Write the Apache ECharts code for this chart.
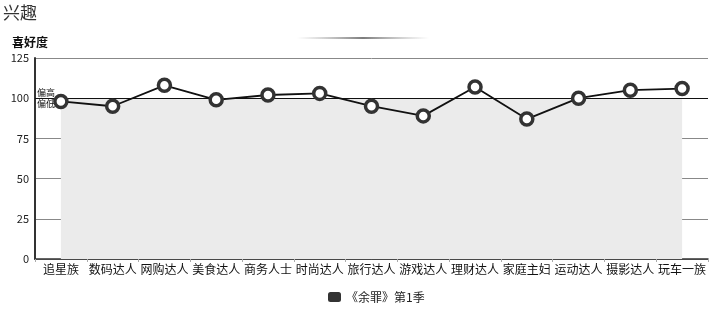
<!DOCTYPE html>
<html><head><meta charset="utf-8">
<script src="https://cdn.jsdelivr.net/npm/echarts@6/dist/echarts.min.js"></script>
<style>html,body{margin:0;padding:0;background:#fff}#c{width:711px;height:309px}</style>
</head><body><div id="c"></div>
<script>
var categories = ['追星族','数码达人','网购达人','美食达人','商务人士','时尚达人','旅行达人','游戏达人','理财达人','家庭主妇','运动达人','摄影达人','玩车一族'];
var values = [98, 95, 108, 99, 102, 103, 95, 89, 107, 87, 100, 105, 106];
var seriesName = '《余罪》第1季';
var yTicks = [0, 25, 50, 75, 100, 125];
var baseline = 100;
var font = '"Noto Sans CJK SC", "DejaVu Sans", sans-serif';

var chart = echarts.init(document.getElementById('c'));
chart.setOption({
  animation: false,
  textStyle: {fontFamily: font},
  title: {text: '兴趣', left: -2, top: -1, textStyle: {fontSize: 17, fontWeight: 'normal', color: '#333', fontFamily: font}},
  graphic: [{
    type: 'rect', left: 297, top: 37, shape: {width: 132, height: 2},
    style: {fill: new echarts.graphic.LinearGradient(0, 0, 1, 0, [
      {offset: 0, color: 'rgba(150,150,150,0)'},
      {offset: 0.5, color: 'rgba(110,110,110,0.9)'},
      {offset: 1, color: 'rgba(150,150,150,0)'}])}
  }],
  legend: {
    bottom: 1, left: 323, itemWidth: 13, itemHeight: 10, itemGap: 4,
    icon: 'roundRect',
    textStyle: {fontSize: 12, color: '#222', fontFamily: font},
    data: [{name: seriesName, itemStyle: {color: '#333', borderWidth: 0}}]
  },
  grid: {left: 35, right: 3, top: 58, bottom: 50},
  xAxis: {
    type: 'category', data: categories, boundaryGap: true,
    axisLine: {lineStyle: {color: '#333', width: 1.5}},
    axisTick: {show: true, length: 3, lineStyle: {color: '#aaa'}},
    axisLabel: {color: '#111', fontSize: 12, margin: 4, interval: 0, fontFamily: font}
  },
  yAxis: {
    type: 'value', min: yTicks[0], max: yTicks[yTicks.length - 1], interval: 25,
    name: '喜好度', nameLocation: 'end', nameGap: 10,
    nameTextStyle: {color: '#111', fontSize: 12, fontWeight: 'bold', align: 'left', padding: [0, 0, 0, -23], fontFamily: font},
    axisLine: {show: true, lineStyle: {color: '#333', width: 2}},
    axisTick: {show: false},
    axisLabel: {color: '#222', fontSize: 11, margin: 6, fontFamily: font},
    splitLine: {lineStyle: {color: '#888', width: 1}}
  },
  series: [{
    name: seriesName, type: 'line', data: values,
    symbol: 'circle', symbolSize: 12,
    lineStyle: {color: '#111', width: 1.8},
    itemStyle: {color: '#fff', borderColor: '#333', borderWidth: 3.5},
    z: 5,
    markArea: {
      silent: true,
      itemStyle: {color: '#ebebeb'},
      data: [[{xAxis: categories[0], yAxis: 0}, {xAxis: categories[categories.length - 1], yAxis: baseline}]]
    },
    markLine: {
      silent: true, symbol: 'none',
      lineStyle: {color: '#111', width: 1, type: 'solid'},
      data: [
        {yAxis: baseline, label: {formatter: '偏高', position: 'insideStartTop', color: '#111', fontSize: 9, distance: [2, 1]}},
        {yAxis: baseline, label: {formatter: '偏低', position: 'insideStartBottom', color: '#111', fontSize: 9, distance: [2, 1]}}
      ]
    }
  }]
});
</script></body></html>
